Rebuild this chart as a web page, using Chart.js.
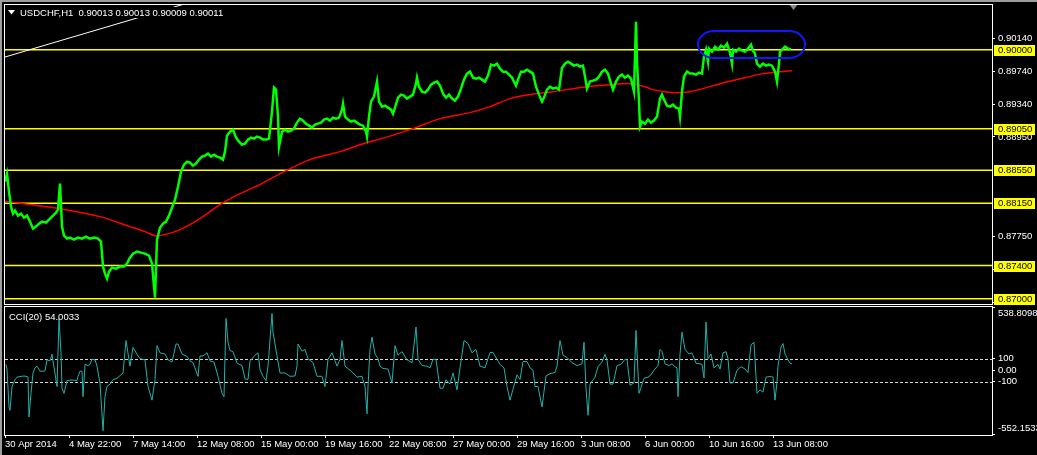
<!DOCTYPE html>
<html>
<head>
<meta charset="utf-8">
<title>USDCHF,H1</title>
<script src="https://cdn.jsdelivr.net/npm/chart.js@4"></script>
<style>
    html, body { margin: 0; padding: 0; background: #000; overflow: hidden; }
    #wrap { position: relative; width: 1037px; height: 455px; }
    canvas { position: absolute; left: 0; }
    #priceChart { top: 0; }
    #cciChart { top: 305px; }
</style>
</head>
<body>
<div id="wrap">
    <canvas id="priceChart" width="1037" height="305"></canvas>
    <canvas id="cciChart" width="1037" height="150"></canvas>
</div>
<script>
// Price (H1 close, sampled) - bar index counted from 30 Apr 2014
const priceBars = [
    0, 2, 4, 6, 8, 10, 13, 16, 19, 22, 25, 28, 31, 34, 37, 41, 45, 48, 51, 53,
    55, 57, 59, 62, 65, 69, 73, 77, 81, 85, 89, 93, 96, 98, 100, 102, 104, 107, 111, 115,
    119, 122, 125, 128, 132, 136, 140, 144, 147, 150, 152, 155, 158, 161, 164, 167, 170, 173, 176, 179,
    182, 185, 188, 191, 194, 197, 200, 203, 206, 209, 212, 215, 218, 220, 222, 225, 228, 231, 234, 237,
    240, 243, 246, 249, 252, 255, 258, 261, 264, 267, 269, 271, 273, 274, 277, 280, 283, 286, 289, 292,
    295, 298, 301, 304, 307, 310, 313, 316, 319, 322, 325, 328, 331, 334, 337, 338, 340, 343, 346, 349,
    352, 355, 358, 361, 362, 364, 366, 369, 372, 374, 377, 380, 383, 386, 388, 390, 393, 396, 399, 402,
    405, 408, 411, 412, 414, 417, 420, 423, 426, 429, 432, 435, 438, 441, 444, 447, 450, 453, 456, 459,
    462, 465, 468, 471, 474, 477, 480, 483, 486, 489, 492, 495, 498, 501, 504, 507, 509, 511, 513, 516,
    519, 522, 525, 528, 531, 534, 537, 539, 542, 545, 548, 551, 554, 557, 560, 563, 566, 569, 572, 575,
    578, 580, 582, 585, 588, 591, 594, 597, 600, 603, 606, 608, 611, 614, 617, 620, 623, 626, 629, 631,
    632, 634, 635, 637, 640, 643, 646, 649, 652, 655, 657, 659, 662, 665, 668, 671, 674, 675, 677, 679,
    682, 685, 688, 691, 694, 697, 699, 701, 703, 704, 707, 710, 713, 716, 719, 722, 725, 727, 728, 731,
    734, 737, 740, 743, 746, 748, 750, 752, 755, 758, 761, 764, 767, 770, 772, 774, 775, 777, 780, 783,
    786
];
const priceClose = [
    0.88412, 0.88508, 0.88291, 0.88110, 0.88026, 0.88062, 0.88002, 0.88026, 0.87978, 0.88002,
    0.87930, 0.87845, 0.87870, 0.87906, 0.87930, 0.87918, 0.87966, 0.88002, 0.88038, 0.88074,
    0.88388, 0.87870, 0.87761, 0.87725, 0.87737, 0.87713, 0.87737, 0.87725, 0.87749, 0.87725,
    0.87737, 0.87725, 0.87689, 0.87388, 0.87303, 0.87243, 0.87327, 0.87376, 0.87364, 0.87388,
    0.87388, 0.87424, 0.87496, 0.87544, 0.87568, 0.87556, 0.87544, 0.87520, 0.87424, 0.87014,
    0.87713, 0.87857, 0.87906, 0.87930, 0.88002, 0.88098, 0.88195, 0.88351, 0.88532, 0.88617,
    0.88653, 0.88641, 0.88604, 0.88629, 0.88677, 0.88713, 0.88725, 0.88749, 0.88713, 0.88737,
    0.88713, 0.88701, 0.88677, 0.88773, 0.88966, 0.89014, 0.89038, 0.88942, 0.88894, 0.88857,
    0.88870, 0.88918, 0.88942, 0.88930, 0.88954, 0.88942, 0.88918, 0.88918, 0.88930, 0.89255,
    0.89544, 0.89520, 0.89195, 0.88833, 0.89014, 0.89038, 0.89014, 0.89026, 0.89050, 0.89123,
    0.89171, 0.89147, 0.89110, 0.89086, 0.89062, 0.89098, 0.89110, 0.89123, 0.89159, 0.89171,
    0.89147, 0.89183, 0.89171, 0.89183, 0.89279, 0.89351, 0.89195, 0.89159, 0.89135, 0.89147,
    0.89123, 0.89098, 0.89086, 0.89014, 0.88954, 0.89195, 0.89376, 0.89436, 0.89617, 0.89376,
    0.89315, 0.89327, 0.89303, 0.89279, 0.89231, 0.89303, 0.89424, 0.89460, 0.89448, 0.89412,
    0.89436, 0.89460, 0.89592, 0.89665, 0.89556, 0.89496, 0.89484, 0.89520, 0.89580, 0.89604,
    0.89617, 0.89568, 0.89472, 0.89424, 0.89460, 0.89412, 0.89388, 0.89436, 0.89532, 0.89641,
    0.89713, 0.89737, 0.89665, 0.89653, 0.89665, 0.89641, 0.89617, 0.89689, 0.89821, 0.89809,
    0.89833, 0.89773, 0.89737, 0.89737, 0.89701, 0.89665, 0.89617, 0.89568, 0.89641, 0.89737,
    0.89737, 0.89761, 0.89737, 0.89713, 0.89556, 0.89460, 0.89376, 0.89424, 0.89520, 0.89556,
    0.89532, 0.89544, 0.89520, 0.89785, 0.89833, 0.89857, 0.89833, 0.89809, 0.89821, 0.89797,
    0.89809, 0.89677, 0.89532, 0.89617, 0.89629, 0.89641, 0.89677, 0.89737, 0.89761, 0.89713,
    0.89592, 0.89520, 0.89617, 0.89677, 0.89701, 0.89665, 0.89689, 0.89653, 0.89496, 0.90339,
    0.89857, 0.89376, 0.89074, 0.89135, 0.89110, 0.89159, 0.89123, 0.89147, 0.89195, 0.89412,
    0.89460, 0.89400, 0.89327, 0.89315, 0.89339, 0.89303, 0.89291, 0.89195, 0.89496, 0.89677,
    0.89737, 0.89713, 0.89713, 0.89701, 0.89725, 0.89713, 0.89918, 0.90002, 0.89857, 0.90014,
    0.89978, 0.90038, 0.90002, 0.90050, 0.90026, 0.90074, 0.89966, 0.89833, 0.90002, 0.89978,
    0.90014, 0.89990, 0.89978, 0.90014, 0.90062, 0.89990, 0.89954, 0.89833, 0.89797, 0.89833,
    0.89809, 0.89821, 0.89809, 0.89737, 0.89617, 0.89833, 0.89978, 0.90002, 0.90038, 0.90014,
    0.90011
];

// Moving average (red)
const maBars = [0, 25, 55, 95, 125, 140, 150, 160, 175, 195, 215, 235, 255, 275, 305, 335, 355, 380, 405, 435,
    465, 485, 505, 525, 548, 582, 605, 625, 640, 648, 660, 672, 685, 698, 715, 732, 745, 758, 787];
const maValues = [0.88171, 0.88135, 0.88086, 0.87990, 0.87870, 0.87809, 0.87761, 0.87773, 0.87833, 0.87966,
    0.88135, 0.88267, 0.88376, 0.88508, 0.88677, 0.88773, 0.88857, 0.88942, 0.89038, 0.89171,
    0.89243, 0.89315, 0.89412, 0.89460, 0.89496, 0.89556, 0.89580, 0.89592, 0.89556, 0.89520,
    0.89496, 0.89484, 0.89496, 0.89532, 0.89592, 0.89641, 0.89677, 0.89713, 0.89749];

// CCI(20)
const cciBars = [
    1, 2, 4, 5, 7, 10, 12, 15, 19, 22, 23, 24, 26, 28, 30, 32, 35, 38, 40, 42,
    45, 47, 48, 52, 54, 56, 57, 59, 62, 67, 72, 73, 75, 77, 78, 80, 83, 85, 87, 90,
    92, 95, 98, 100, 102, 105, 108, 112, 118, 121, 125, 128, 132, 135, 140, 143, 147, 150, 152, 155,
    160, 163, 167, 171, 173, 177, 182, 185, 188, 193, 195, 198, 202, 205, 209, 213, 217, 219, 221, 223,
    225, 228, 232, 237, 240, 243, 245, 250, 253, 255, 258, 261, 263, 267, 268, 272, 275, 280, 285, 290,
    292, 293, 297, 300, 303, 308, 312, 317, 320, 323, 327, 332, 335, 337, 340, 345, 348, 352, 357, 360,
    362, 363, 365, 367, 370, 373, 375, 378, 383, 387, 390, 393, 397, 402, 407, 411, 413, 417, 422, 425,
    428, 431, 435, 438, 441, 445, 448, 452, 455, 459, 463, 467, 471, 475, 480, 485, 488, 492, 495, 499,
    502, 505, 512, 515, 518, 522, 525, 528, 530, 533, 537, 541, 545, 550, 552, 555, 558, 562, 567, 572,
    577, 579, 581, 583, 585, 590, 593, 597, 600, 602, 605, 608, 612, 616, 620, 622, 625, 629, 631, 634,
    636, 639, 643, 646, 649, 653, 655, 657, 660, 664, 667, 670, 672, 673, 675, 677, 680, 684, 687, 691,
    695, 697, 699, 701, 703, 706, 709, 713, 715, 718, 721, 723, 725, 728, 732, 736, 740, 743, 746, 749,
    752, 755, 758, 761, 765, 768, 770, 772, 773, 776, 778, 780, 783, 785, 787
];
const cciValues = [
    50, 10, -318, -347, -141, -82, -60, -55, -50, -55, -60, -405, -200, -24, 20, 35, -9, -9, -5, 90,
    80, 138, 80, -141, 447, 150, -156, -200, -90, -85, -90, -53, -9, -9, -229, 50, 40, 50, 94, 90,
    35, -112, -523, -229, -140, -120, -82, -70, -24, 256, 35, 197, 138, 100, 90, -141, -259, -82, 212, 150,
    140, 90, 70, 226, 226, 140, 120, 80, 65, -53, 123, 123, 150, 80, 70, -53, -200, -229, 447, 241,
    170, 160, 60, 40, -75, -80, 80, 130, 150, 6, -53, -90, 35, 491, 329, 124, -24, -24, -53, -50,
    35, 226, 165, 180, 100, 65, -53, -53, -141, 94, 150, 35, 94, 256, 35, 0, -24, -60, -53, -141,
    -376, -141, 180, 285, 140, 100, 35, 15, 10, -112, 212, 130, 160, 90, 65, 373, 94, 40, 35, 20,
    94, 94, -156, -156, -82, -120, -24, -170, 20, 256, 230, 150, 180, 35, 20, 153, 153, 94, 50, 20,
    -141, -259, -40, -80, 75, 75, 20, 0, -141, -141, -318, -50, -30, -20, 35, 256, 130, 110, 65, 40,
    55, 241, -156, -390, -120, -60, 30, 70, 138, 90, -120, -120, 40, 50, 94, 94, -130, -110, 344, -200,
    -150, -70, -60, -40, 0, 40, 180, 160, 55, 40, 55, 30, 20, -229, 138, 329, 180, 140, 150, 60,
    55, 50, -68, 417, 100, 140, 20, 50, 10, 150, 160, 100, -110, -110, 0, 30, 10, -20, 220, 240,
    -200, -170, -190, -60, -55, -60, -259, -100, 35, 200, 230, 140, 90, 60, 54
];

// Horizontal levels, trend line and the marked zone
const levelValues = [0.90000, 0.89050, 0.88550, 0.88150, 0.87400, 0.87000];
const priceTicks = [0.86950, 0.87350, 0.87750, 0.88950, 0.89340, 0.89740, 0.90140];
const trendBars = [0, 132];
const trendPrices = [0.89913, 0.90383];
const zoneBars = [693, 800];
const zonePrices = [0.89901, 0.90227];

const cciLevels = [100, -100];
const cciTicks = [-552.1533, -100, 0, 100, 538.8098];
const cciTickText = ["-552.1533", "-100", "0.00", "100", "538.8098"];

// Time axis
const timeBars = [0, 64, 128, 192, 256, 320, 384, 448, 512, 576, 640, 704, 768];
const timeLabels = ["30 Apr 2014", "4 May 22:00", "7 May 14:00", "12 May 08:00", "15 May 00:00", "19 May 16:00",
    "22 May 08:00", "27 May 00:00", "29 May 16:00", "3 Jun 08:00", "6 Jun 00:00", "10 Jun 16:00", "13 Jun 08:00"];

const titleText = "USDCHF,H1  0.90013 0.90013 0.90009 0.90011";
const cciTitle = "CCI(20) 54.0033";

const FONT_FAMILY = "'Liberation Sans', Arial, sans-serif";
const FONT = { family: FONT_FAMILY, size: 9.5 };
const BAR_MAX = 987;

function toPoints(xs, ys) {
    return xs.map((b, i) => ({ x: b, y: ys[i] }));
}

// axes keep the panel size fixed, no extra room for edge labels
function noEdgePadding(s) {
    s.paddingTop = 0;
    s.paddingBottom = 0;
    s.paddingLeft = 0;
    s.paddingRight = 0;
}

// fills background and the grey window edge
function paintBackground(chart) {
    const ctx = chart.ctx;
    ctx.save();
    ctx.fillStyle = "#000";
    ctx.fillRect(0, 0, chart.width, chart.height);
    ctx.fillStyle = "#9c9c9c";
    ctx.fillRect(0, 0, 2, chart.height);
    ctx.restore();
}

function strokePanel(chart) {
    const { ctx, chartArea: a } = chart;
    ctx.save();
    ctx.strokeStyle = "#fff";
    ctx.lineWidth = 1;
    ctx.strokeRect(a.left - 0.5, a.top - 0.5, a.right - a.left + 1, a.bottom - a.top + 1);
    ctx.restore();
}

const pricePanel = {
    id: "pricePanel",
    beforeDraw(chart) {
        paintBackground(chart);
        const ctx = chart.ctx;
        ctx.fillStyle = "#9c9c9c";
        ctx.fillRect(0, 0, chart.width, 2);
    },
    beforeDatasetsDraw(chart) {
        const { ctx, chartArea: a, scales: { x, y } } = chart;
        ctx.save();
        ctx.beginPath();
        ctx.rect(a.left, a.top, a.right - a.left, a.bottom - a.top);
        ctx.clip();

        ctx.strokeStyle = "#ffff00";
        ctx.lineWidth = 1.5;
        levelValues.forEach(v => {
            const py = y.getPixelForValue(v);
            ctx.beginPath();
            ctx.moveTo(a.left, py);
            ctx.lineTo(a.right, py);
            ctx.stroke();
        });

        // trend line, extended to the right
        const slope = (trendPrices[1] - trendPrices[0]) / (trendBars[1] - trendBars[0]);
        const endBar = 200;
        ctx.strokeStyle = "#fff";
        ctx.lineWidth = 1;
        ctx.beginPath();
        ctx.moveTo(x.getPixelForValue(trendBars[0]), y.getPixelForValue(trendPrices[0]));
        ctx.lineTo(x.getPixelForValue(endBar), y.getPixelForValue(trendPrices[0] + slope * endBar));
        ctx.stroke();
        ctx.restore();
    },
    afterDatasetsDraw(chart) {
        const { ctx, scales: { x, y } } = chart;
        const x0 = x.getPixelForValue(zoneBars[0]);
        const x1 = x.getPixelForValue(zoneBars[1]);
        const y0 = y.getPixelForValue(zonePrices[1]);
        const y1 = y.getPixelForValue(zonePrices[0]);
        ctx.save();
        ctx.strokeStyle = "#1414ff";
        ctx.lineWidth = 2;
        ctx.beginPath();
        ctx.roundRect(x0, y0, x1 - x0, y1 - y0, [{ x: 16, y: (y1 - y0) / 2 }]);
        ctx.stroke();
        ctx.restore();
    },
    afterDraw(chart) {
        const { ctx, chartArea: a, scales: { y } } = chart;
        ctx.save();

        // title box hides what is behind it
        ctx.fillStyle = "#000";
        ctx.fillRect(6, 7, 217, 11);
        ctx.fillStyle = "#fff";
        ctx.beginPath();
        ctx.moveTo(8, 10);
        ctx.lineTo(15, 10);
        ctx.lineTo(11.5, 14.5);
        ctx.closePath();
        ctx.fill();
        ctx.font = `${FONT.size}px ${FONT_FAMILY}`;
        ctx.textBaseline = "middle";
        ctx.textAlign = "left";
        ctx.fillText(titleText, 20, 13);

        // shift marker
        ctx.fillStyle = "#8a8a8a";
        ctx.beginPath();
        ctx.moveTo(789, 4);
        ctx.lineTo(798, 4);
        ctx.lineTo(793.5, 10);
        ctx.closePath();
        ctx.fill();

        ctx.restore();
        strokePanel(chart);

        // yellow price labels of the levels
        ctx.save();
        ctx.font = `${FONT.size}px ${FONT_FAMILY}`;
        ctx.textBaseline = "middle";
        levelValues.forEach(v => {
            const py = Math.round(y.getPixelForValue(v));
            ctx.fillStyle = "#ffff00";
            ctx.fillRect(a.right + 2, py - 5, 41, 11);
            ctx.fillStyle = "#000";
            ctx.fillText(v.toFixed(5), a.right + 6, py + 0.5);
        });
        ctx.restore();
    }
};

const cciPanel = {
    id: "cciPanel",
    beforeDraw(chart) {
        paintBackground(chart);
    },
    beforeDatasetsDraw(chart) {
        const { ctx, chartArea: a, scales: { y } } = chart;
        ctx.save();
        ctx.strokeStyle = "#d8d8d8";
        ctx.lineWidth = 1;
        ctx.setLineDash([3, 2]);
        cciLevels.forEach(v => {
            const py = Math.round(y.getPixelForValue(v)) + 0.5;
            ctx.beginPath();
            ctx.moveTo(a.left, py);
            ctx.lineTo(a.right, py);
            ctx.stroke();
        });
        ctx.restore();
    },
    afterDraw(chart) {
        const ctx = chart.ctx;
        strokePanel(chart);
        ctx.save();
        ctx.fillStyle = "#fff";
        ctx.font = `${FONT.size}px ${FONT_FAMILY}`;
        ctx.textBaseline = "middle";
        ctx.fillText(cciTitle, 9, 12);
        ctx.restore();
    }
};

// Price chart
new Chart(document.getElementById("priceChart"), {
    type: "line",
    data: {
        datasets: [
            {
                label: "USDCHF,H1",
                data: toPoints(priceBars, priceClose),
                borderColor: "#00ff00",
                borderWidth: 2.5,
                pointRadius: 0,
                tension: 0,
                order: 1,
            },
            {
                label: "MA",
                data: toPoints(maBars, maValues),
                borderColor: "#ff0000",
                borderWidth: 1.5,
                pointRadius: 0,
                tension: 0.3,
                order: 2,
            },
        ],
    },
    options: {
        responsive: false,
        animation: false,
        devicePixelRatio: 1,
        layout: { padding: { left: 5, top: 5, bottom: 1, right: 0 } },
        plugins: { legend: { display: false }, tooltip: { enabled: false } },
        scales: {
            x: { type: "linear", display: false, min: 0, max: BAR_MAX },
            y: {
                position: "right",
                min: 0.869374,
                max: 0.905398,
                afterFit: (s) => { s.width = 45; noEdgePadding(s); },
                afterBuildTicks: (s) => { s.ticks = priceTicks.map(v => ({ value: v })); },
                ticks: {
                    color: "#fff",
                    font: FONT,
                    padding: 3,
                    autoSkip: false,
                    crossAlign: "near",
                    callback: (v) => Number(v).toFixed(5),
                },
                grid: { drawOnChartArea: false, color: "#fff", tickLength: 3 },
                border: { display: false },
            },
        },
    },
    plugins: [pricePanel],
});

// CCI chart
new Chart(document.getElementById("cciChart"), {
    type: "line",
    data: {
        datasets: [
            {
                label: "CCI(20)",
                data: toPoints(cciBars, cciValues),
                borderColor: "#20b2aa",
                borderWidth: 1,
                pointRadius: 0,
                tension: 0,
            },
        ],
    },
    options: {
        responsive: false,
        animation: false,
        devicePixelRatio: 1,
        layout: { padding: { left: 5, top: 2, bottom: 0, right: 0 } },
        plugins: { legend: { display: false }, tooltip: { enabled: false } },
        scales: {
            x: {
                type: "linear",
                min: 0,
                max: BAR_MAX,
                afterFit: (s) => { s.height = 20; noEdgePadding(s); },
                afterBuildTicks: (s) => { s.ticks = timeBars.map(v => ({ value: v })); },
                ticks: {
                    color: "#fff",
                    font: FONT,
                    padding: 1,
                    align: "start",
                    autoSkip: false,
                    maxRotation: 0,
                    callback: (v, i) => timeLabels[i],
                },
                grid: { drawOnChartArea: false, color: "#fff", tickLength: 3 },
                border: { display: false },
            },
            y: {
                position: "right",
                min: -560,
                max: 546,
                afterFit: (s) => { s.width = 45; noEdgePadding(s); },
                afterBuildTicks: (s) => { s.ticks = cciTicks.map(v => ({ value: v })); },
                ticks: {
                    color: "#fff",
                    font: FONT,
                    padding: 3,
                    autoSkip: false,
                    crossAlign: "near",
                    // first and last labels sit inside the panel
                    callback: (v, i) => {
                        if (i === 0) return [cciTickText[i], ""];
                        if (i === cciTicks.length - 1) return ["", cciTickText[i]];
                        return cciTickText[i];
                    },
                },
                grid: { drawOnChartArea: false, color: "#fff", tickLength: 3 },
                border: { display: false },
            },
        },
    },
    plugins: [cciPanel],
});
</script>
</body>
</html>
